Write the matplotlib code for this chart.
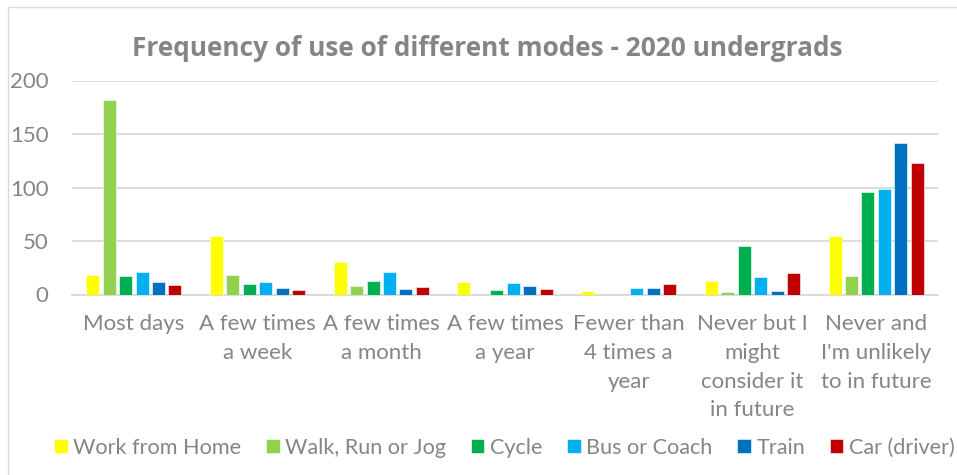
import matplotlib
matplotlib.use("Agg")
import matplotlib.pyplot as plt
from matplotlib.patches import Rectangle
import numpy as np

plt.rcParams['font.family'] = ['Lato', 'DejaVu Sans']

categories = ["Most days", "A few times\na week", "A few times\na month", "A few times\na year",
              "Fewer than\n4 times a\nyear", "Never but I\nmight\nconsider it\nin future",
              "Never and\nI'm unlikely\nto in future"]
series_names = ["Work from Home", "Walk, Run or Jog", "Cycle", "Bus or Coach", "Train", "Car (driver)"]
work_from_home = [18, 55, 30, 12, 3, 13, 55]
walk_run_jog = [182, 18, 8, 0, 0, 2, 17]
cycle = [17, 10, 13, 4, 0, 45, 96]
bus_coach = [21, 12, 21, 11, 6, 16, 99]
train = [12, 6, 5, 8, 6, 3, 142]
car_driver = [9, 4, 7, 5, 10, 20, 123]
colors = ["#FFFF00", "#92D050", "#00B050", "#00B0F0", "#0070C0", "#C00000"]

values = [work_from_home, walk_run_jog, cycle, bus_coach, train, car_driver]
grey = "#858585"

fig = plt.figure(figsize=(9.57, 4.75), dpi=100)
# chart border
fig.patches.append(Rectangle((8 / 957, -0.1), 1.1, 1 - 7 / 475 + 0.1, transform=fig.transFigure,
                             fill=False, edgecolor="#D9D9D9", linewidth=1))

ax = fig.add_axes([72 / 957, (475 - 294.5) / 475, (938 - 72) / 957, (294.5 - 80.5) / 475])
x = np.arange(len(categories))
slot = 0.133
for i, (name, vals) in enumerate(zip(series_names, values)):
    ax.bar(x + (i - 2.5) * slot, vals, width=0.105, color=colors[i], label=name,
           edgecolor="white", linewidth=0.4, zorder=3)

ax.set_xlim(-0.5, 6.5)
ax.set_ylim(0, 200)
ax.set_yticks([0, 50, 100, 150, 200])
ax.yaxis.grid(True, color="#D9D9D9", linewidth=1.3, zorder=0)
for s in ["top", "right", "left"]:
    ax.spines[s].set_visible(False)
ax.spines["bottom"].set_color("#D9D9D9")
ax.spines["bottom"].set_linewidth(1.3)
ax.tick_params(axis="both", length=0, colors=grey, labelsize=16)
ax.tick_params(axis="y", pad=17)
ax.tick_params(axis="x", pad=14)
ax.set_xticks(x)
ax.set_xticklabels(categories, linespacing=1.55, va="top")

fig.text(0.509, (475 - 48) / 475, "Frequency of use of different modes - 2020 undergrads",
         ha="center", va="center", fontsize=18.9, fontweight="bold", color=grey,
         family=["Open Sans", "DejaVu Sans"])

handles, labels = ax.get_legend_handles_labels()
fig.legend(handles, labels, loc="center", bbox_to_anchor=(0.527, 27 / 475), ncol=6, frameon=False,
           fontsize=15.6, labelcolor=grey, handlelength=0.62, handleheight=0.62,
           handletextpad=0.25, columnspacing=1.15)

fig.savefig("out.png", dpi=100)
